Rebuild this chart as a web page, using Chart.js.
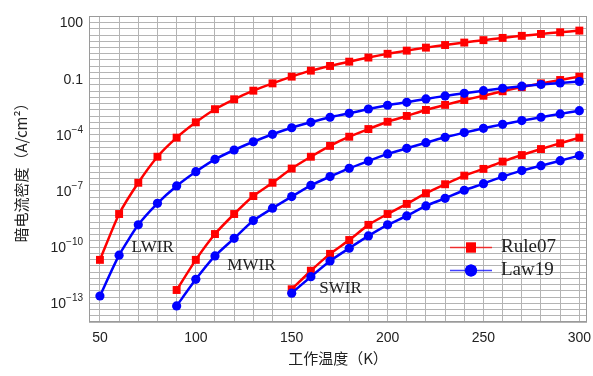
<!DOCTYPE html>
<html>
<head>
<meta charset="utf-8">
<script src="https://cdn.jsdelivr.net/npm/chart.js@4/dist/chart.umd.min.js"></script>
<style>
  html, body { margin: 0; padding: 0; background: #ffffff; }
  #wrap { width: 593px; height: 376px; }
</style>
</head>
<body>
<div id="wrap"><canvas id="chart" width="593" height="376"></canvas></div>
<script>
// operating temperature (K) for each band
const tempLwir = [50, 60, 70, 80, 90, 100, 110, 120, 130, 140, 150, 160, 170, 180, 190, 200, 210, 220, 230, 240, 250, 260, 270, 280, 290, 300];
const tempMwir = [90, 100, 110, 120, 130, 140, 150, 160, 170, 180, 190, 200, 210, 220, 230, 240, 250, 260, 270, 280, 290, 300];
const tempSwir = [150, 160, 170, 180, 190, 200, 210, 220, 230, 240, 250, 260, 270, 280, 290, 300];

// dark current density, log10(A/cm^2)
const rule07LwirLog = [-10.68, -8.23, -6.56, -5.17, -4.15, -3.33, -2.63, -2.10, -1.64, -1.25, -0.89, -0.57, -0.32, -0.09, 0.13, 0.33, 0.50, 0.66, 0.80, 0.93, 1.06, 1.18, 1.29, 1.39, 1.48, 1.57];
const law19LwirLog = [-12.61, -10.43, -8.81, -7.66, -6.73, -5.97, -5.31, -4.81, -4.37, -3.97, -3.62, -3.33, -3.06, -2.85, -2.62, -2.42, -2.26, -2.08, -1.92, -1.78, -1.64, -1.51, -1.40, -1.31, -1.23, -1.15];
const rule07MwirLog = [-12.29, -10.68, -9.30, -8.23, -7.27, -6.56, -5.80, -5.17, -4.59, -4.10, -3.69, -3.30, -2.99, -2.67, -2.40, -2.14, -1.91, -1.67, -1.45, -1.25, -1.07, -0.89];
const law19MwirLog = [-13.14, -11.72, -10.47, -9.53, -8.58, -7.92, -7.30, -6.70, -6.23, -5.79, -5.40, -5.02, -4.72, -4.42, -4.13, -3.88, -3.65, -3.44, -3.24, -3.06, -2.88, -2.71];
const rule07SwirLog = [-12.25, -11.26, -10.36, -9.62, -8.81, -8.23, -7.69, -7.12, -6.64, -6.18, -5.82, -5.43, -5.08, -4.76, -4.45, -4.15];
const law19SwirLog = [-12.46, -11.58, -10.74, -10.06, -9.40, -8.81, -8.33, -7.80, -7.39, -6.96, -6.61, -6.23, -5.91, -5.65, -5.38, -5.11];

// axis ticks
const xTickLabels = [50, 100, 150, 200, 250, 300];
const yTickValues = [1e2, 1e-1, 1e-4, 1e-7, 1e-10, 1e-13];
const yTickBase = ['100', '0.1', '10', '10', '10', '10'];
const yTickSup = ['', '', '\u22124', '\u22127', '\u221210', '\u221213'];

const seriesNames = ['Rule07', 'Law19'];
const bandNames = ['LWIR', 'MWIR', 'SWIR'];

const RED = '#ff0000';
const BLUE = '#0000ff';
const SANS = '"Liberation Sans", Arial, sans-serif';
const SERIF = '"Liberation Serif", "Times New Roman", serif';
const CJK = '"Noto Sans CJK SC", sans-serif';

// where the band names sit, in data coordinates
const bandLabelPos = [
    {x: 77.5, y: 1e-10},
    {x: 129, y: 1.1e-11},
    {x: 175.5, y: 6.5e-13},
];

function toPoints(temps, logs) {
    return temps.map((t, i) => ({x: t, y: Math.pow(10, logs[i])}));
}

function lineSet(label, temps, logs, color, style) {
    return {
        label: label,
        data: toPoints(temps, logs),
        borderColor: color,
        backgroundColor: color,
        borderWidth: 2.5,
        pointStyle: style,
        pointRadius: style === 'rect' ? 5.6 : 4.6,
        pointBorderWidth: 0,
        pointBackgroundColor: color,
        tension: 0.2,
        order: color === RED ? 2 : 1,
    };
}

const datasets = [
    lineSet(seriesNames[0], tempLwir, rule07LwirLog, RED, 'rect'),
    lineSet(seriesNames[0], tempMwir, rule07MwirLog, RED, 'rect'),
    lineSet(seriesNames[0], tempSwir, rule07SwirLog, RED, 'rect'),
    lineSet(seriesNames[1], tempLwir, law19LwirLog, BLUE, 'circle'),
    lineSet(seriesNames[1], tempMwir, law19MwirLog, BLUE, 'circle'),
    lineSet(seriesNames[1], tempSwir, law19SwirLog, BLUE, 'circle'),
];

/**
 * Frame round the plot area, drawn over the grid.
 */
const framePlugin = {
    id: 'frame',
    beforeDatasetsDraw(chart) {
        const {ctx, chartArea: a} = chart;
        ctx.save();
        ctx.strokeStyle = '#9a9a9a';
        ctx.lineWidth = 1;
        ctx.strokeRect(Math.round(a.left) + 0.5, Math.round(a.top) + 0.5,
            Math.round(a.right - a.left) - 1, Math.round(a.bottom - a.top) - 1);
        ctx.restore();
    },
};

/**
 * Tick labels (with real superscripts), band names and legend.
 */
const textPlugin = {
    id: 'texts',
    afterDraw(chart) {
        const ctx = chart.ctx;
        const xs = chart.scales.x;
        const ys = chart.scales.y;
        ctx.save();
        ctx.fillStyle = '#222222';

        ctx.font = '14px ' + SANS;
        ctx.textAlign = 'center';
        ctx.textBaseline = 'middle';
        xTickLabels.forEach(v => {
            ctx.fillText(String(v), xs.getPixelForValue(v), xs.top + 16);
        });

        const right = ys.right - 6;
        yTickValues.forEach((v, i) => {
            const py = ys.getPixelForValue(v);
            ctx.textAlign = 'right';
            let supW = 0;
            if (yTickSup[i]) {
                ctx.font = '10px ' + SANS;
                supW = ctx.measureText(yTickSup[i]).width;
                ctx.fillText(yTickSup[i], right, py - 5);
            }
            ctx.font = '14px ' + SANS;
            ctx.fillText(yTickBase[i], right - supW, py + 1);
        });

        ctx.font = '17px ' + SERIF;
        ctx.textAlign = 'center';
        bandNames.forEach((name, i) => {
            const p = bandLabelPos[i];
            ctx.fillText(name, xs.getPixelForValue(p.x), ys.getPixelForValue(p.y));
        });

        // legend
        const items = [
            {name: seriesNames[0], color: RED, style: 'rect', radius: 5.6},
            {name: seriesNames[1], color: BLUE, style: 'circle', radius: 5.6},
        ];
        items.forEach((it, i) => {
            const y = 247.5 + i * 23;
            ctx.globalAlpha = 0.75;
            ctx.strokeStyle = it.color;
            ctx.lineWidth = 1.5;
            ctx.beginPath();
            ctx.moveTo(450, y);
            ctx.lineTo(492, y);
            ctx.stroke();
            ctx.globalAlpha = 1;
            ctx.fillStyle = it.color;
            Chart.helpers.drawPoint(ctx, {pointStyle: it.style, radius: it.style === 'rect' ? 7 : 6, borderWidth: 0}, 471, y);
            ctx.fill();
            ctx.fillStyle = '#222222';
            ctx.font = '19px ' + SERIF;
            ctx.textAlign = 'left';
            ctx.fillText(it.name, 501, y);
        });
        ctx.restore();
    },
};

new Chart(document.getElementById('chart'), {
    type: 'line',
    data: {datasets: datasets},
    options: {
        responsive: false,
        devicePixelRatio: 1,
        animation: false,
        layout: {padding: {left: 0, right: 6, top: 16, bottom: 0}},
        plugins: {
            legend: {display: false},
            tooltip: {enabled: false},
        },
        scales: {
            x: {
                type: 'linear',
                min: 44.3,
                max: 304,
                afterFit(scale) { scale.height = 54; },
                afterBuildTicks(scale) {
                    const ticks = [];
                    for (let t = 50; t <= 300; t += 10) {
                        ticks.push({value: t});
                    }
                    scale.ticks = ticks;
                },
                ticks: {autoSkip: false, callback: () => ''},
                grid: {color: '#b4b4b4', lineWidth: 1, drawTicks: false},
                border: {display: false},
                title: {
                    display: true,
                    text: '工作温度（K）',
                    color: '#222222',
                    font: {family: CJK, size: 15},
                    padding: {top: 0, bottom: 9},
                },
            },
            y: {
                type: 'logarithmic',
                min: 1e-14,
                max: Math.pow(10, 2.35),
                afterFit(scale) { scale.width = 89; },
                afterBuildTicks(scale) {
                    const ticks = [];
                    for (let k = -42; k <= 7; k++) {
                        ticks.push({value: Math.pow(10, k / 3)});
                    }
                    scale.ticks = ticks;
                },
                ticks: {autoSkip: false, callback: () => ''},
                grid: {color: '#b4b4b4', lineWidth: 1, drawTicks: false},
                border: {display: false},
                title: {
                    display: true,
                    text: '暗电流密度（A/cm²）',
                    color: '#222222',
                    font: {family: CJK, size: 15},
                    padding: {top: 12, bottom: 0},
                },
            },
        },
    },
    plugins: [framePlugin, textPlugin],
});
</script>
</body>
</html>
